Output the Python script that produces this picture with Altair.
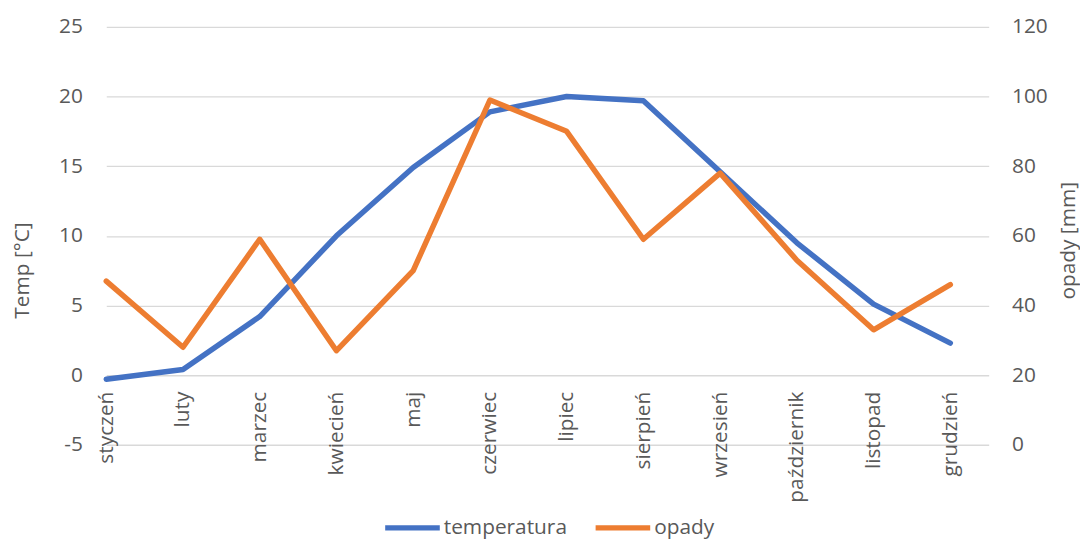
import altair as alt
import pandas as pd

months = ["styczeń", "luty", "marzec", "kwiecień", "maj", "czerwiec", "lipiec",
          "sierpień", "wrzesień", "październik", "listopad", "grudzień"]
temperatura = [-0.3, 0.4, 4.2, 10.0, 14.9, 18.9, 20.0, 19.7, 14.6, 9.5, 5.1, 2.3]
opady = [47, 28, 59, 27, 50, 99, 90, 59, 78, 53, 33, 46]

temp_ticks = [-5, 0, 5, 10, 15, 20, 25]
opady_ticks = [0, 20, 40, 60, 80, 100, 120]

df = pd.DataFrame({
    "idx": list(range(len(months))),
    "miesiac": months,
    "temperatura": temperatura,
    "opady": opady,
})

FONT = "Open Sans"
TXT = "#595959"
GRID = "#D9D9D9"
BLUE = "#4472C4"
ORANGE = "#ED7D31"
LW = 5.5

label_expr = "[" + ",".join("'" + m + "'" for m in months) + "][datum.value]"

color_scale = alt.Scale(domain=["temperatura", "opady"], range=[BLUE, ORANGE])

x_enc = alt.X(
    "idx:Q",
    scale=alt.Scale(domain=[0, 11.5], nice=False, zero=False),
    axis=alt.Axis(
        values=list(range(len(months))),
        labelExpr=label_expr,
        labelAngle=-90,
        labelPadding=16,
        labelFlush=False,
        labelBound=False,
        labelOverlap=False,
        ticks=False,
        tickSize=0,
        domain=False,
        grid=False,
        title=None,
        offset=-70,
        labelFont=FONT,
        labelFontSize=21,
        labelColor=TXT,
    ),
)

legend = alt.Legend(
    orient="none",
    legendX=278,
    legendY=474,
    direction="horizontal",
    title=None,
    symbolType="stroke",
    symbolSize=3025,
    symbolStrokeWidth=LW,
    labelFont=FONT,
    labelFontSize=21,
    labelColor=TXT,
    labelOffset=1,
    columnPadding=17,
    padding=0,
)

line_temp = alt.Chart(df).transform_calculate(
    seria="'temperatura'"
).mark_line(strokeWidth=LW, strokeCap="round", strokeJoin="round").encode(
    x=x_enc,
    y=alt.Y(
        "temperatura:Q",
        scale=alt.Scale(domain=[-5, 25], nice=False, zero=False),
        axis=alt.Axis(
            values=temp_ticks,
            labelExpr="'' + datum.value",
            title="Temp [°C]",
            titleX=-84,
            titleY=245,
            titleAngle=-90,
            titleBaseline="middle",
            titleAlign="center",
            titleFont=FONT,
            titleFontSize=21,
            titleFontWeight="normal",
            titleColor=TXT,
            labelFont=FONT,
            labelFontSize=21,
            labelColor=TXT,
            labelPadding=24,
            ticks=False,
            tickSize=0,
            domain=False,
            grid=True,
            gridColor=GRID,
            gridWidth=1.3,
        ),
    ),
    color=alt.Color("seria:N", scale=color_scale, legend=legend),
)

line_opady = alt.Chart(df).transform_calculate(
    seria="'opady'"
).mark_line(strokeWidth=LW, strokeCap="round", strokeJoin="round").encode(
    x=x_enc,
    y=alt.Y(
        "opady:Q",
        scale=alt.Scale(domain=[0, 120], nice=False, zero=False),
        axis=alt.Axis(
            orient="right",
            values=opady_ticks,
            labelExpr="'' + datum.value",
            title="opady [mm]",
            titleX=80,
            titleY=215,
            titleAngle=-90,
            titleBaseline="middle",
            titleAlign="center",
            titleFont=FONT,
            titleFontSize=21,
            titleFontWeight="normal",
            titleColor=TXT,
            labelFont=FONT,
            labelFontSize=21,
            labelColor=TXT,
            labelPadding=23,
            ticks=False,
            tickSize=0,
            domain=False,
            grid=False,
        ),
    ),
    color=alt.Color("seria:N", scale=color_scale, legend=legend),
)

chart = alt.layer(line_temp, line_opady).resolve_scale(
    y="independent", color="shared"
).properties(
    width=889,
    height=421,
    autosize=alt.AutoSizeParams(type="none"),
    padding={"left": 99, "top": 17, "right": 92, "bottom": 100},
).configure_view(stroke=None)

chart.save("out.html", embed_options={"renderer": "svg", "actions": False})
